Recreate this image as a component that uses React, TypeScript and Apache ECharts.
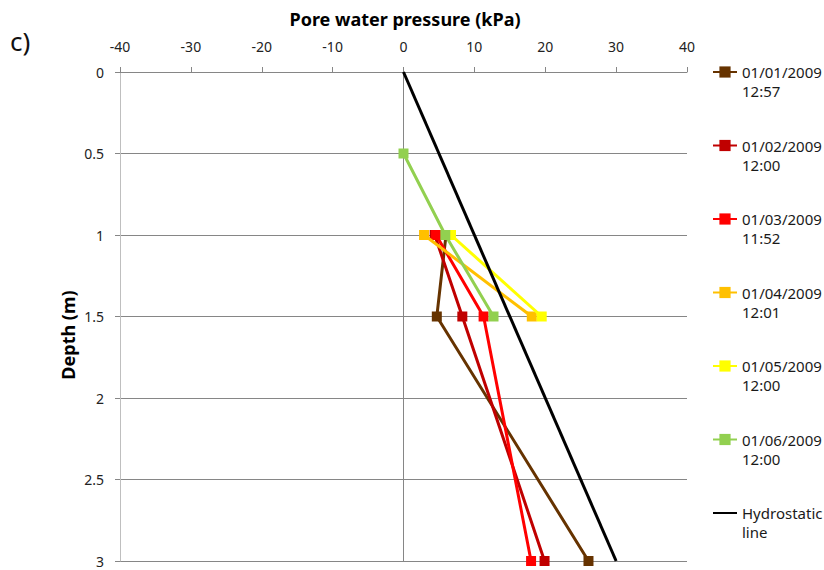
import React, { useEffect, useRef } from "react";
import * as echarts from "echarts";

const FONT = "'Noto Sans', 'Open Sans', sans-serif";

const seriesNames = [
  "01/01/2009 12:57",
  "01/02/2009 12:00",
  "01/03/2009 11:52",
  "01/04/2009 12:01",
  "01/05/2009 12:00",
  "01/06/2009 12:00",
];
const seriesColors = ["#663300", "#C00000", "#FF0000", "#FFC000", "#FFFF00", "#92D050"];

const depths0101 = [1, 1.5, 3];
const pressure0101 = [6.0, 4.7, 26.1];
const depths0102 = [1, 1.5, 3];
const pressure0102 = [4.4, 8.3, 19.9];
const depths0103 = [1, 1.5, 3];
const pressure0103 = [4.6, 11.3, 18.0];
const depths0104 = [1, 1.5];
const pressure0104 = [2.9, 18.1];
const depths0105 = [1, 1.5];
const pressure0105 = [6.7, 19.5];
const depths0106 = [0.5, 1, 1.5];
const pressure0106 = [0, 5.9, 12.7];

const hydroName = "Hydrostatic line";
const hydroDepths = [0, 3];
const hydroPressure = [0, 30];

const xTicks = { min: -40, max: 40, interval: 10 };
const yTicks = { min: 0, max: 3, interval: 0.5 };

const allDepths = [depths0101, depths0102, depths0103, depths0104, depths0105, depths0106];
const allPressures = [pressure0101, pressure0102, pressure0103, pressure0104, pressure0105, pressure0106];

export default function App() {
  const ref = useRef<HTMLDivElement>(null);
  useEffect(() => {
    document.body.style.margin = "0";
    if (!ref.current) return;
    const chart = echarts.init(ref.current, null, { renderer: "svg" });
    const series: any[] = seriesNames.map((name, i) => ({
      name,
      type: "line",
      data: allPressures[i].map((p, j) => [p, allDepths[i][j]]),
      symbol: "rect",
      symbolSize: 10,
      showAllSymbol: true,
      lineStyle: { color: seriesColors[i], width: 3 },
      itemStyle: { color: seriesColors[i] },
      z: 3 + i,
    }));
    series.push({
      name: hydroName,
      type: "line",
      data: hydroPressure.map((p, j) => [p, hydroDepths[j]]),
      symbol: "none",
      lineStyle: { color: "#000000", width: 3 },
      itemStyle: { color: "#000000" },
      z: 10,
    });
    series[0].markLine = {
      silent: true,
      symbol: "none",
      label: { show: false },
      lineStyle: { color: "#868686", width: 1, type: "solid" },
      data: [{ xAxis: 0 }],
      z: 2,
    };
    chart.setOption({
      animation: false,
      grid: { left: 120, right: 137, top: 72, bottom: 9, containLabel: false },
      xAxis: {
        type: "value",
        position: "top",
        min: xTicks.min,
        max: xTicks.max,
        interval: xTicks.interval,
        axisLine: { show: true, lineStyle: { color: "#868686", width: 1 } },
        axisTick: { show: true, inside: false, length: 5, lineStyle: { color: "#868686" } },
        splitLine: { show: false },
        axisLabel: { color: "#222", fontSize: 14, fontFamily: FONT, margin: 19 },
      },
      yAxis: {
        type: "value",
        inverse: true,
        min: yTicks.min,
        max: yTicks.max,
        interval: yTicks.interval,
        axisLine: { show: true, onZero: false, lineStyle: { color: "#BFBFBF", width: 1 } },
        axisTick: { show: true, length: 5, lineStyle: { color: "#868686" } },
        splitLine: { show: true, lineStyle: { color: "#868686", width: 1 } },
        axisLabel: { color: "#222", fontSize: 14, fontFamily: FONT, margin: 16 },
      },
      legend: {
        orient: "vertical",
        left: 712,
        top: 43.5,
        padding: 0,
        itemWidth: 24,
        itemHeight: 14,
        itemGap: 16.5,
        data: [
          ...seriesNames,
          { name: hydroName, icon: "path://M0,6 L24,6 L24,8 L0,8 Z", itemStyle: { color: "#000" } },
        ],
        formatter: (name: string) => "\n" + name.replace(" ", "\n"),
        textStyle: {
          color: "#1a1a1a",
          fontSize: 15,
          lineHeight: 19,
          fontFamily: FONT,
        },
      },
      graphic: [
        {
          type: "text",
          x: 10,
          y: 41,
          style: { text: "c)", fontSize: 26, fontFamily: FONT, fill: "#111", verticalAlign: "middle" },
        },
        {
          type: "text",
          x: 405,
          y: 19,
          style: {
            text: "Pore water pressure (kPa)",
            fontSize: 18,
            fontWeight: "bold",
            fontFamily: FONT,
            fill: "#000",
            align: "center",
            verticalAlign: "middle",
          },
        },
        {
          type: "text",
          x: 68,
          y: 335,
          rotation: Math.PI / 2,
          style: {
            text: "Depth (m)",
            fontSize: 18,
            fontWeight: "bold",
            fontFamily: FONT,
            fill: "#000",
            align: "center",
            verticalAlign: "middle",
          },
        },
      ],
      series,
    });
    return () => chart.dispose();
  }, []);
  return <div ref={ref} style={{ width: 824, height: 570 }} />;
}
